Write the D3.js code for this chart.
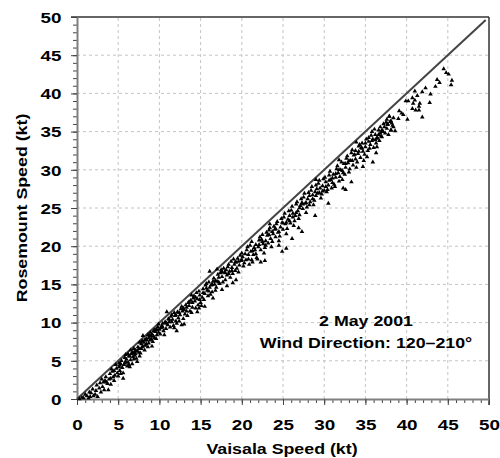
<!DOCTYPE html>
<html>
<head>
<meta charset="utf-8">
<script src="https://cdn.jsdelivr.net/npm/d3@7"></script>
<style>
body { margin: 0; background: #fff; }
svg text { font-family: "Liberation Sans", Arial, sans-serif; font-weight: bold; fill: #000; }
</style>
</head>
<body>
<div id="chart"></div>
<script>
/** axis ticks */
var majorTicks = [0, 5, 10, 15, 20, 25, 30, 35, 40, 45, 50];
var gridTicks = [5, 10, 15, 20, 25, 30, 35, 40, 45];
var oneToOne = [[0, 0], [49.6, 49.6]];
var noteLines = ["2 May 2001", "Wind Direction: 120\u2013210\u00b0"];

/** [Vaisala, Rosemount] speed pairs */
var lowSpeed = [
  [0.3,0.0],[0.6,0.2],[0.8,0.1],[1.2,0.4],[1.0,0.6],[1.4,0.1],[1.7,0.8],[1.5,0.9],[2.0,0.4],[1.9,1.3],
  [2.3,1.1],[2.2,0.6],[2.7,1.4],[2.4,1.8],[2.9,0.9],[3.1,1.6],[2.8,2.1],[3.4,2.4],[3.3,1.2],[3.7,2.0],
  [3.5,2.9],[3.9,2.6],[4.1,1.9],[4.0,3.3],[4.4,2.9],[4.3,3.6],[4.6,3.1],[4.8,4.0],[4.5,2.4],[4.9,3.4],
  [5.1,4.2],[5.0,3.0],[5.3,4.6],[5.2,3.7],[5.5,4.1],[5.4,5.0],[5.7,4.5],[5.6,3.4],[5.9,4.9],[5.8,5.4],
  [6.1,4.3],[6.0,5.2],[6.3,5.6],[6.2,4.8],[6.4,4.2],[6.6,5.9],[6.5,5.1],[6.8,5.5],[6.7,4.6],[7.0,6.2],
  [6.9,6.6],[7.2,5.3],[7.1,5.9],[7.4,6.8],[7.3,6.3],[7.6,5.6],[7.5,6.6],[7.8,7.2],[7.7,6.0],[8.0,6.9],
  [7.9,7.6],[8.2,6.4],[8.1,7.4],[8.4,7.9],[8.3,7.0],[8.6,6.8],[8.5,7.7],[8.8,8.3],[8.7,7.3],[9.0,7.9],
  [8.9,8.7],[9.2,7.5],[9.1,8.5],[9.4,9.0],[9.3,8.2],[9.6,7.9],[9.5,8.8],[9.8,9.4],[9.7,8.4],[10.0,9.1],
  [9.9,9.8],[4.2,3.9],[3.0,2.6],[6.2,5.9],[8.6,8.4],[5.6,2.7],[9.1,6.9],[7.3,4.9],[3.8,1.2],[2.5,0.3],
  [6.9,5.2],[5.3,3.3],[8.0,8.3],[6.5,6.4],[4.7,4.5],[7.6,7.4],[9.4,8.0],[5.9,5.8],[6.3,4.5],[7.0,5.7],
  [8.4,7.2],[9.6,9.1],[5.1,4.7],[4.1,2.7],[6.7,6.1],[7.8,6.6],[8.9,7.7],[9.9,8.7],[3.2,2.2],[1.6,0.3]
];
var midSpeed = [
  [10.2,9.3],[10.1,8.5],[10.4,9.9],[10.5,8.9],[10.3,9.6],[10.7,10.1],[10.8,9.2],[10.6,8.4],[11.0,9.7],[11.1,10.5],
  [10.9,9.9],[11.3,9.4],[11.4,10.8],[11.2,10.1],[11.6,10.4],[11.7,9.6],[11.5,11.0],[11.9,10.9],[12.0,10.2],[11.8,9.3],
  [12.2,11.4],[12.3,10.6],[12.1,9.9],[12.5,11.0],[12.6,11.8],[12.4,10.2],[12.8,11.5],[12.9,10.5],[12.7,12.1],[13.1,11.1],
  [13.2,12.3],[13.0,11.7],[13.4,10.9],[13.5,12.6],[13.3,12.0],[13.7,11.5],[13.8,12.9],[13.6,12.2],[14.0,12.0],[14.1,13.2],
  [13.9,11.3],[14.3,12.8],[14.4,11.9],[14.2,13.5],[14.6,13.1],[14.7,12.3],[14.5,13.9],[14.9,13.6],[15.0,12.6],[14.8,14.1],
  [15.2,13.3],[15.3,14.4],[15.1,12.2],[15.5,13.8],[15.6,14.9],[15.4,13.0],[15.8,14.2],[15.9,13.5],[15.7,15.1],[16.1,14.6],
  [16.2,13.7],[16.0,15.3],[16.4,14.0],[16.5,15.4],[16.3,14.9],[16.7,15.0],[16.8,14.2],[16.6,15.8],[17.0,15.4],[17.1,16.3],
  [16.9,14.6],[17.3,15.1],[17.4,16.5],[17.2,15.9],[17.6,16.0],[17.7,15.3],[17.5,16.9],[17.9,16.6],[18.0,15.6],[17.8,17.1],
  [18.2,16.2],[18.3,17.3],[18.1,16.9],[18.5,16.7],[18.6,15.9],[18.4,17.6],[18.8,17.2],[18.9,16.4],[18.7,18.0],[19.1,17.6],
  [19.2,16.8],[19.0,18.3],[19.4,17.1],[19.5,18.4],[19.3,17.9],[19.7,17.5],[19.8,18.8],[19.6,16.6],[19.9,18.1],[12.1,8.9],
  [15.5,12.1],[17.6,14.3],[14.6,11.4],[16.1,16.7],[10.9,11.4],[13.0,9.8],[18.2,14.8],[11.8,11.3],[13.9,13.6],[16.5,13.2],
  [14.8,11.9],[18.9,15.2],[12.7,9.7],[17.0,17.0],[19.3,15.6]
];
var highSpeed = [
  [20.1,18.6],[20.3,17.8],[20.0,19.1],[20.5,18.2],[20.6,19.5],[20.2,17.4],[20.8,18.9],[20.9,17.6],[20.7,19.9],[21.1,19.3],
  [21.2,18.2],[21.0,20.1],[21.4,18.9],[21.5,19.8],[21.3,17.9],[21.7,20.2],[21.8,18.5],[21.6,19.5],[22.0,19.9],[22.1,20.8],
  [21.9,18.3],[22.3,19.5],[22.4,20.9],[22.2,21.2],[22.6,20.3],[22.7,19.1],[22.5,21.5],[22.9,20.7],[23.0,21.8],[22.8,19.8],
  [23.2,20.4],[23.3,22.1],[23.1,21.4],[23.5,21.0],[23.6,19.9],[23.4,22.4],[23.8,21.6],[23.9,22.6],[23.7,20.6],[24.1,21.2],
  [24.2,22.9],[24.0,22.2],[24.4,21.8],[24.5,20.7],[24.3,23.2],[24.7,22.5],[24.8,23.6],[24.6,21.3],[25.0,22.2],[25.1,23.8],
  [24.9,23.1],[25.3,22.9],[25.4,21.6],[25.2,24.3],[25.6,23.5],[25.7,24.6],[25.5,22.3],[25.9,23.0],[26.0,24.7],[25.8,24.0],
  [26.2,24.3],[26.3,22.7],[26.1,25.2],[26.5,24.0],[26.6,25.5],[26.4,23.3],[26.8,24.6],[26.9,23.6],[26.7,25.8],[27.1,25.3],
  [27.2,26.2],[27.0,24.1],[27.4,24.9],[27.5,26.4],[27.3,25.7],[27.7,25.6],[27.8,24.4],[27.6,26.9],[28.0,26.2],[28.1,27.0],
  [27.9,25.1],[28.3,25.8],[28.4,27.3],[28.2,26.6],[28.6,26.7],[28.7,25.4],[28.5,27.8],[28.9,27.1],[29.0,28.0],[28.8,26.0],
  [29.2,26.9],[29.3,28.2],[29.1,27.5],[29.5,27.6],[29.6,26.3],[29.4,28.6],[29.8,27.9],[29.9,28.8],[29.7,26.8],[30.0,27.3],
  [26.1,21.0],[27.3,21.9],[25.4,19.7],[22.8,18.1],[24.5,20.1],[28.9,24.0],[23.4,22.9],[21.2,20.6],[22.3,17.9],[26.9,22.4],
  [29.0,28.7],[24.9,19.3]
];
var topSpeed = [
  [30.2,28.4],[30.3,27.1],[30.1,29.0],[30.5,28.0],[30.6,29.3],[30.4,27.4],[30.8,28.7],[30.9,27.6],[30.7,29.8],[31.1,29.4],
  [31.2,28.1],[31.0,28.9],[31.4,29.0],[31.5,30.1],[31.3,27.8],[31.7,29.6],[31.8,28.5],[31.6,30.5],[32.0,30.0],[32.1,31.0],
  [31.9,29.1],[32.3,29.6],[32.4,30.8],[32.2,28.7],[32.6,30.3],[32.7,31.5],[32.5,29.4],[32.9,30.9],[33.0,29.7],[32.8,31.8],
  [33.2,31.2],[33.3,32.2],[33.1,30.1],[33.5,30.6],[33.6,31.9],[33.4,32.6],[33.8,31.4],[33.9,30.3],[33.7,32.0],[34.1,32.1],
  [34.2,33.1],[34.0,31.0],[34.4,31.6],[34.5,32.9],[34.3,33.3],[34.7,32.4],[34.8,31.2],[34.6,33.5],[35.0,33.0],[35.1,34.0],
  [34.9,32.0],[35.3,32.5],[35.4,33.7],[35.2,31.7],[35.6,33.3],[35.7,34.5],[35.5,32.8],[35.9,34.0],[36.0,32.9],[35.8,35.0],
  [36.2,34.6],[36.3,33.5],[36.1,35.3],[36.5,34.1],[36.6,35.2],[36.4,33.0],[36.8,35.6],[36.9,34.4],[36.7,33.8],[37.1,35.1],
  [37.2,36.0],[37.0,34.3],[37.4,34.8],[37.5,36.2],[37.3,35.6],[37.7,35.9],[37.8,34.6],[37.6,36.6],[38.0,36.3],[38.1,35.2],
  [37.9,37.0],[38.3,35.8],[38.4,36.8],[30.5,25.6],[32.3,27.6],[33.3,28.4],[35.9,31.0],[32.6,27.4],[33.9,33.6],[31.8,31.3],
  [34.7,30.4],[36.3,32.2]
];
var denseCore = [
  [3.6,2.2],[4.5,3.7],[5.2,4.4],[5.8,4.7],[6.4,5.6],[6.8,6.0],[7.1,6.4],[7.5,6.1],[7.9,6.8],[8.2,7.7],
  [8.7,8.0],[9.0,8.3],[9.3,8.9],[9.7,9.0],[10.4,9.4],[10.8,10.0],[11.2,10.4],[11.5,10.1],[12.0,11.0],[12.4,11.3],
  [12.9,11.9],[13.3,11.5],[13.6,12.7],[14.0,12.6],[14.4,13.3],[14.9,13.0],[15.3,13.9],[15.7,14.5],[16.0,14.1],[16.4,15.0],
  [16.8,15.5],[17.2,15.3],[17.6,16.6],[18.0,16.5],[18.4,16.4],[18.8,16.8],[19.2,17.9],[19.6,18.0],[20.0,18.2],[20.4,19.0],
  [20.8,18.3],[21.3,19.4],[21.7,19.0],[22.1,20.2],[22.5,20.6],[22.9,20.1],[23.3,21.5],[23.7,21.9],[24.1,22.3],[24.5,21.9],
  [25.0,23.0],[25.4,23.1],[25.8,23.3],[26.2,23.8],[26.6,24.4],[27.0,25.0],[27.4,25.5],[27.8,25.7],[28.2,25.4],[28.6,26.2],
  [29.0,26.6],[29.4,27.0],[29.8,27.2],[30.2,27.8],[30.6,28.6],[31.0,28.3],[31.4,29.5],[31.8,30.0],[32.2,29.9],[32.6,30.8],
  [33.0,31.2],[33.4,31.2],[33.8,32.5],[34.2,32.4],[34.6,32.8],[35.0,33.5],[35.4,34.2],[35.8,33.8],[36.2,33.9],[36.6,34.6],
  [37.0,35.2]
];
var tailSpeed = [
  [36.4,34.2],[36.8,34.8],[37.1,35.0],[37.6,35.4],[38.1,35.2],[38.6,35.1],[38.4,35.6],[37.7,36.0],[38.2,36.1],[38.1,36.4],
  [37.9,37.0],[39.0,36.7],[40.1,36.6],[39.6,37.2],[39.4,37.4],[39.1,37.7],[41.9,36.9],[41.5,37.8],[41.1,37.8],[40.7,38.0],
  [40.8,38.7],[41.5,38.3],[41.6,38.7],[42.8,38.8],[40.2,39.0],[39.9,39.0],[41.0,39.1],[40.7,39.4],[41.3,39.7],[41.0,40.3],
  [42.9,39.9],[41.9,40.2],[42.3,40.7],[43.5,40.9],[44.0,41.4],[43.7,41.8],[45.4,41.1],[45.5,41.7],[45.1,42.5],[44.8,42.7],
  [44.5,43.2]
];

var W = 500, H = 458;
var textScale = 1.27;
var svg = d3.select("#chart").append("svg").attr("width", W).attr("height", H);

var x = d3.scaleLinear().domain([0, 50]).range([77, 489]);
var y = d3.scaleLinear().domain([0, 50]).range([399, 17]);

// dashed grid
svg.append("g").selectAll("line").data(gridTicks).join("line")
  .attr("x1", d => x(d)).attr("x2", d => x(d)).attr("y1", y(0)).attr("y2", y(50))
  .attr("stroke", "#c4c4c4").attr("stroke-dasharray", "3,3");
svg.append("g").selectAll("line").data(gridTicks).join("line")
  .attr("y1", d => y(d)).attr("y2", d => y(d)).attr("x1", x(0)).attr("x2", x(50))
  .attr("stroke", "#c4c4c4").attr("stroke-dasharray", "3,3");

// frame top and right
svg.append("line").attr("x1", x(0) - 6).attr("x2", x(50)).attr("y1", y(50)).attr("y2", y(50))
  .attr("stroke", "#333").attr("stroke-width", 1.5);
svg.append("line").attr("x1", x(50)).attr("x2", x(50)).attr("y1", y(50)).attr("y2", y(0) + 6)
  .attr("stroke", "#333").attr("stroke-width", 1.5);

// minor ticks, every knot
var minorTicks = d3.range(0, 51, 1);
svg.append("g").attr("transform", "translate(0," + y(0) + ")")
  .call(d3.axisBottom(x).tickValues(minorTicks).tickSize(4).tickSizeOuter(0).tickFormat(""))
  .call(g => g.select(".domain").remove())
  .selectAll("line").attr("stroke", "#444");
svg.append("g").attr("transform", "translate(" + x(0) + ",0)")
  .call(d3.axisLeft(y).tickValues(minorTicks).tickSize(4).tickSizeOuter(0).tickFormat(""))
  .call(g => g.select(".domain").remove())
  .selectAll("line").attr("stroke", "#444");

// major axes
var xAxis = svg.append("g").attr("transform", "translate(0," + y(0) + ")")
  .call(d3.axisBottom(x).tickValues(majorTicks).tickSize(6).tickSizeOuter(0));
var yAxis = svg.append("g").attr("transform", "translate(" + x(0) + ",0)")
  .call(d3.axisLeft(y).tickValues(majorTicks).tickSize(6).tickSizeOuter(0));
[xAxis, yAxis].forEach(function (g) {
  g.select(".domain").attr("stroke", "#808080").attr("stroke-width", 2);
  g.selectAll(".tick line").attr("stroke", "#444");
  g.selectAll("text").attr("font-size", 14.5).attr("font-family", null);
});
xAxis.selectAll("text").attr("y", 21).attr("transform", "scale(1.3,1)");
yAxis.selectAll("text").attr("x", -15.5 / 1.3).attr("dy", "0.36em").attr("transform", "scale(1.3,1)");

// 1:1 line
svg.append("path").datum(oneToOne)
  .attr("d", d3.line().x(d => x(d[0])).y(d => y(d[1])))
  .attr("stroke", "#444").attr("stroke-width", 2).attr("fill", "none");

// observations
var allPoints = lowSpeed.concat(midSpeed, highSpeed, topSpeed, denseCore, tailSpeed);
svg.append("g").selectAll("path").data(allPoints).join("path")
  .attr("d", d3.symbol(d3.symbolTriangle, 9))
  .attr("transform", d => "translate(" + x(d[0]) + "," + y(d[1]) + ")")
  .attr("fill", "#000");

// annotation
noteLines.forEach(function (t, i) {
  svg.append("g").attr("transform", "translate(366," + (325.5 + i * 22) + ") scale(" + textScale + ",1)")
    .append("text").attr("text-anchor", "middle").attr("font-size", 14).text(t);
});

// axis titles
svg.append("g").attr("transform", "translate(282,454) scale(" + textScale + ",1)")
  .append("text").attr("text-anchor", "middle").attr("font-size", 14).text("Vaisala Speed (kt)");
svg.append("g").attr("transform", "translate(27,208) rotate(-90) scale(" + textScale + ",1)")
  .append("text").attr("text-anchor", "middle").attr("font-size", 14).text("Rosemount Speed (kt)");
</script>
</body>
</html>
